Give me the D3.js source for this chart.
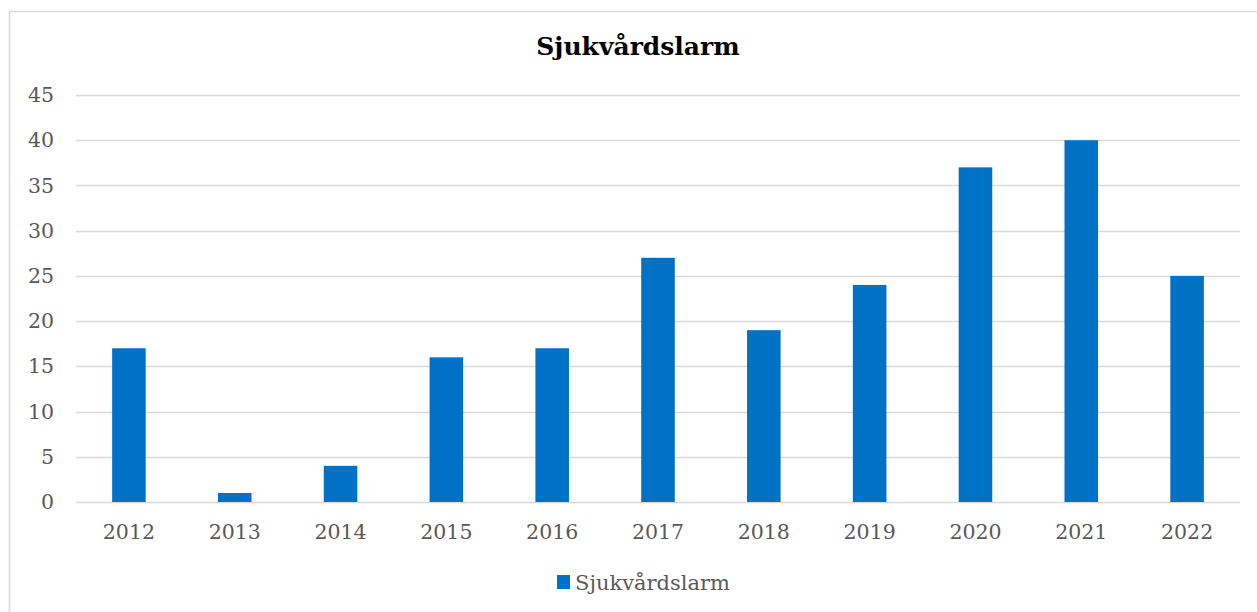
<!DOCTYPE html>
<html>
<head>
<meta charset="utf-8">
<script src="https://cdn.jsdelivr.net/npm/d3@7"></script>
<style>
  body { margin: 0; background: #fff; }
  text { font-family: Georgia, "DejaVu Serif", serif; }
</style>
</head>
<body>
<div id="chart"></div>
<script>
// Data
const years = ["2012", "2013", "2014", "2015", "2016", "2017", "2018", "2019", "2020", "2021", "2022"];
const alarms = [17, 1, 4, 16, 17, 27, 19, 24, 37, 40, 25];
const yTicks = [0, 5, 10, 15, 20, 25, 30, 35, 40, 45];
const seriesName = "Sjukvårdslarm";
const chartTitle = "Sjukvårdslarm";

const W = 1257, H = 612;
const margin = { top: 95, right: 17, bottom: 110, left: 76 };
const width = W - margin.left - margin.right;
const height = H - margin.top - margin.bottom;

const svg = d3.select("#chart")
  .append("svg")
    .attr("width", W)
    .attr("height", H);

// Outer chart border
svg.append("rect")
    .attr("x", 9.5)
    .attr("y", 11.5)
    .attr("width", W + 10)
    .attr("height", H + 10)
    .attr("fill", "none")
    .attr("stroke", "#d9d9d9")
    .attr("stroke-width", 1.5);

svg.append("text")
    .attr("x", 638)
    .attr("y", 55)
    .attr("text-anchor", "middle")
    .style("font-size", "25px")
    .style("font-weight", "bold")
    .attr("fill", "#000")
    .text(chartTitle);

const g = svg.append("g")
    .attr("transform", `translate(${margin.left},${margin.top})`);

const x = d3.scaleBand().domain(years).range([0, width]).padding(0);
const y = d3.scaleLinear().domain([0, 45]).range([height, 0]);
const barW = x.bandwidth() * 0.317;

// Gridlines
g.append("g")
  .selectAll("line")
  .data(yTicks)
  .join("line")
    .attr("x1", 0)
    .attr("x2", width)
    .attr("y1", d => Math.round(y(d)) + 0.5)
    .attr("y2", d => Math.round(y(d)) + 0.5)
    .attr("stroke", "#d9d9d9")
    .attr("stroke-width", 1.5);

// Y axis labels
const yAxis = g.append("g")
    .call(d3.axisLeft(y).tickValues(yTicks).tickSize(0).tickPadding(22));
yAxis.select(".domain").remove();
yAxis.selectAll("text")
    .style("font-size", "20.5px")
    .attr("fill", "#595959")
    .attr("font-family", null);

// Bars
g.selectAll("rect.bar")
  .data(alarms)
  .join("rect")
    .attr("class", "bar")
    .attr("x", (d, i) => x(years[i]) + (x.bandwidth() - barW) / 2)
    .attr("y", d => y(d))
    .attr("width", barW)
    .attr("height", d => y(0) - y(d))
    .attr("fill", "#0072c6");

// X axis labels
const xAxis = g.append("g")
    .attr("transform", `translate(0,${height})`)
    .call(d3.axisBottom(x).tickSize(0).tickPadding(22));
xAxis.select(".domain").remove();
xAxis.selectAll("text")
    .style("font-size", "20.5px")
    .attr("fill", "#595959")
    .attr("font-family", null);

// Legend
const legend = svg.append("g").attr("transform", "translate(557,575)");
legend.append("rect")
    .attr("width", 13)
    .attr("height", 14)
    .attr("fill", "#0072c6");
legend.append("text")
    .attr("x", 18)
    .attr("y", 15)
    .style("font-size", "21px")
    .attr("fill", "#595959")
    .text(seriesName);
</script>
</body>
</html>
